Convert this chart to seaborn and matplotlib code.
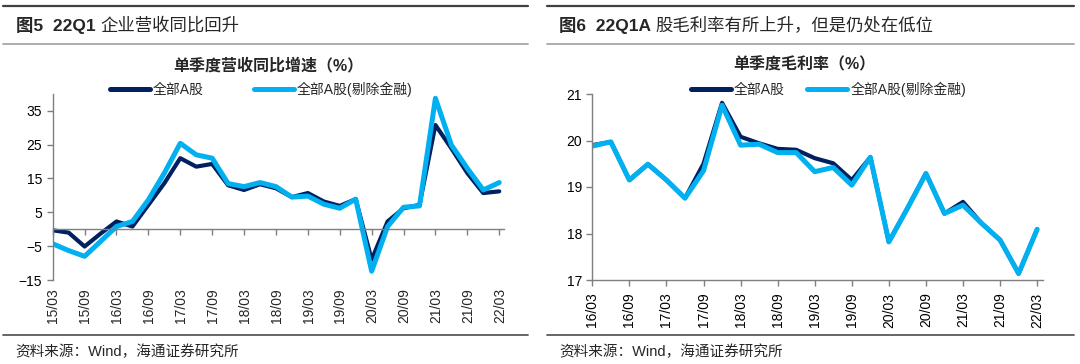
import pandas as pd
import matplotlib.pyplot as plt
import seaborn as sns
from matplotlib.lines import Line2D
from matplotlib.text import Annotation

# quarterly data
q_left = [f"{y:02d}/{m}" for y in range(15, 23) for m in ("03", "06", "09", "12")][:29]
rev_all = [-0.3, -1.0, -5.1, -1.3, 2.3, 0.8, 7.2, 13.6, 21.0, 18.5, 19.3, 13.0, 11.6, 13.3, 12.1,
           9.5, 10.7, 8.2, 6.9, 8.9, -9.0, 2.3, 6.2, 7.2, 30.8, 23.9, 16.6, 10.7, 11.2]
rev_exfin = [-4.3, -6.3, -8.0, -3.6, 0.8, 2.3, 8.7, 16.6, 25.4, 22.0, 21.0, 13.5, 12.6, 13.8, 12.6,
             9.5, 9.8, 7.4, 6.2, 8.9, -12.4, 0.8, 6.5, 6.9, 38.7, 24.9, 18.0, 11.6, 13.8]

q_right = [f"{y:02d}/{m}" for y in range(16, 23) for m in ("03", "06", "09", "12")][:25]
gm_all = [19.90, 19.97, 19.15, 19.49, 19.15, 18.76, 19.50, 20.81, 20.08, 19.94, 19.82, 19.80, 19.62,
          19.51, 19.15, 19.64, 17.82, 18.54, 19.29, 18.43, 18.68, 18.22, 17.86, 17.14, 18.09]
gm_exfin = [19.88, 19.97, 19.15, 19.49, 19.15, 18.76, 19.35, 20.76, 19.90, 19.92, 19.74, 19.74, 19.33,
            19.42, 19.04, 19.64, 17.82, 18.54, 19.29, 18.43, 18.61, 18.22, 17.86, 17.14, 18.09]

names = ["全部A股", "全部A股(剔除金融)"]
DARK = "#002060"
LIGHT = "#00B0F0"
GREY = "#7f7f7f"

sns.set_style("white")
plt.rcParams['font.family'] = ['Liberation Sans', 'Noto Sans CJK SC', 'DejaVu Sans']

W, H = 1080, 364
fig = plt.figure(figsize=(10.8, 3.64), dpi=100)


def fx(px):
    return px / W


def fy(py):
    return 1 - py / H


def draw(ax, labels, s1, s2):
    df = pd.DataFrame({"x": list(range(len(labels))) * 2,
                       "v": s1 + s2,
                       "s": [names[0]] * len(labels) + [names[1]] * len(labels)})
    sns.lineplot(data=df[df.s == names[0]], x="x", y="v", ax=ax, color=DARK, lw=3.0,
                 legend=False, solid_joinstyle="round", solid_capstyle="round")
    sns.lineplot(data=df[df.s == names[1]], x="x", y="v", ax=ax, color=LIGHT, lw=3.6,
                 legend=False, solid_joinstyle="round", solid_capstyle="round")
    ax.set_xlabel("")
    ax.set_ylabel("")
    ax.set_facecolor("none")
    for sp in ["top", "right"]:
        ax.spines[sp].set_visible(False)
    for sp in ["left", "bottom"]:
        ax.spines[sp].set_color(GREY)
        ax.spines[sp].set_linewidth(1.0)
    ax.tick_params(axis="both", which="both", direction="out", length=4, width=1,
                   color=GREY, labelsize=10, labelcolor="black", left=True, bottom=True)


# ---- left panel
axL = fig.add_axes([fx(52.7), fy(280), fx(504 - 52.7), (280 - 93.9) / H])
draw(axL, q_left, rev_all, rev_exfin)
axL.set_xlim(0, 28.3)
axL.set_ylim(-15, 40)
axL.set_yticks([-15, -5, 5, 15, 25, 35])
axL.spines["bottom"].set_position(("data", 0))
axL.set_xticks(range(0, 29, 2))
axL.set_xticklabels([])
for i in range(0, 29, 2):
    axL.annotate(q_left[i], xy=(i, 0), xycoords=("data", "axes fraction"), xytext=(0.5, -6),
                 textcoords="offset points", rotation=90, ha="center", va="top", fontsize=10)

# ---- right panel
axR = fig.add_axes([fx(592.3), fy(280), fx(1042.7 - 592.3), (280 - 94) / H])
draw(axR, q_right, gm_all, gm_exfin)
axR.set_xlim(0, 24.3)
axR.set_ylim(17, 21)
axR.set_yticks([17, 18, 19, 20, 21])
axR.set_xticks(range(0, 25, 2))
axR.set_xticklabels([q_right[i] for i in range(0, 25, 2)], rotation=90, fontsize=10)
axR.tick_params(axis="x", pad=5)

# ---- frame text and rules
for x0, x1 in [(3, 528), (547, 1074)]:
    for yy, c in [(6.2, "#404040"), (43.6, "#a6a6a6"), (335, "#595959")]:
        fig.add_artist(Line2D([fx(x0), fx(x1)], [fy(yy), fy(yy)], color=c, lw=1.6 if yy < 10 else 1.3))

for x0, head, rest in [(15.5, "图5  22Q1 ", "企业营收同比回升"),
                       (559, "图6  22Q1A ", "股毛利率有所上升，但是仍处在低位")]:
    t = fig.text(fx(x0), fy(25), head, fontsize=12.5, fontweight="bold", va="center", ha="left")
    fig.add_artist(Annotation(rest, xy=(1, 0.5), xycoords=t, va="center", ha="left",
                              fontsize=12.5))

fig.text(fx(268), fy(65), "单季度营收同比增速（%）", fontsize=11.5, fontweight="bold",
         ha="center", va="center")
fig.text(fx(804), fy(65), "单季度毛利率（%）", fontsize=11.5, fontweight="bold",
         ha="center", va="center")

fig.text(fx(15.5), fy(352), "资料来源：Wind，海通证券研究所", fontsize=10.5, va="center")
fig.text(fx(559), fy(352), "资料来源：Wind，海通证券研究所", fontsize=10.5, va="center")

# ---- legends
handles = [Line2D([], [], color=DARK, lw=3.6, solid_capstyle="round"),
           Line2D([], [], color=LIGHT, lw=3.6, solid_capstyle="round")]
for ax, x0, spacing in [(axL, 110, 3.6), (axR, 691, 1.6)]:
    leg = fig.legend(handles, names, loc="center left", bbox_to_anchor=(fx(x0), fy(89)),
                     ncol=2, frameon=False, fontsize=10, handlelength=2.9, handletextpad=0.2,
                     columnspacing=spacing, borderpad=0, borderaxespad=0)

fig.savefig("out.png", dpi=100)
